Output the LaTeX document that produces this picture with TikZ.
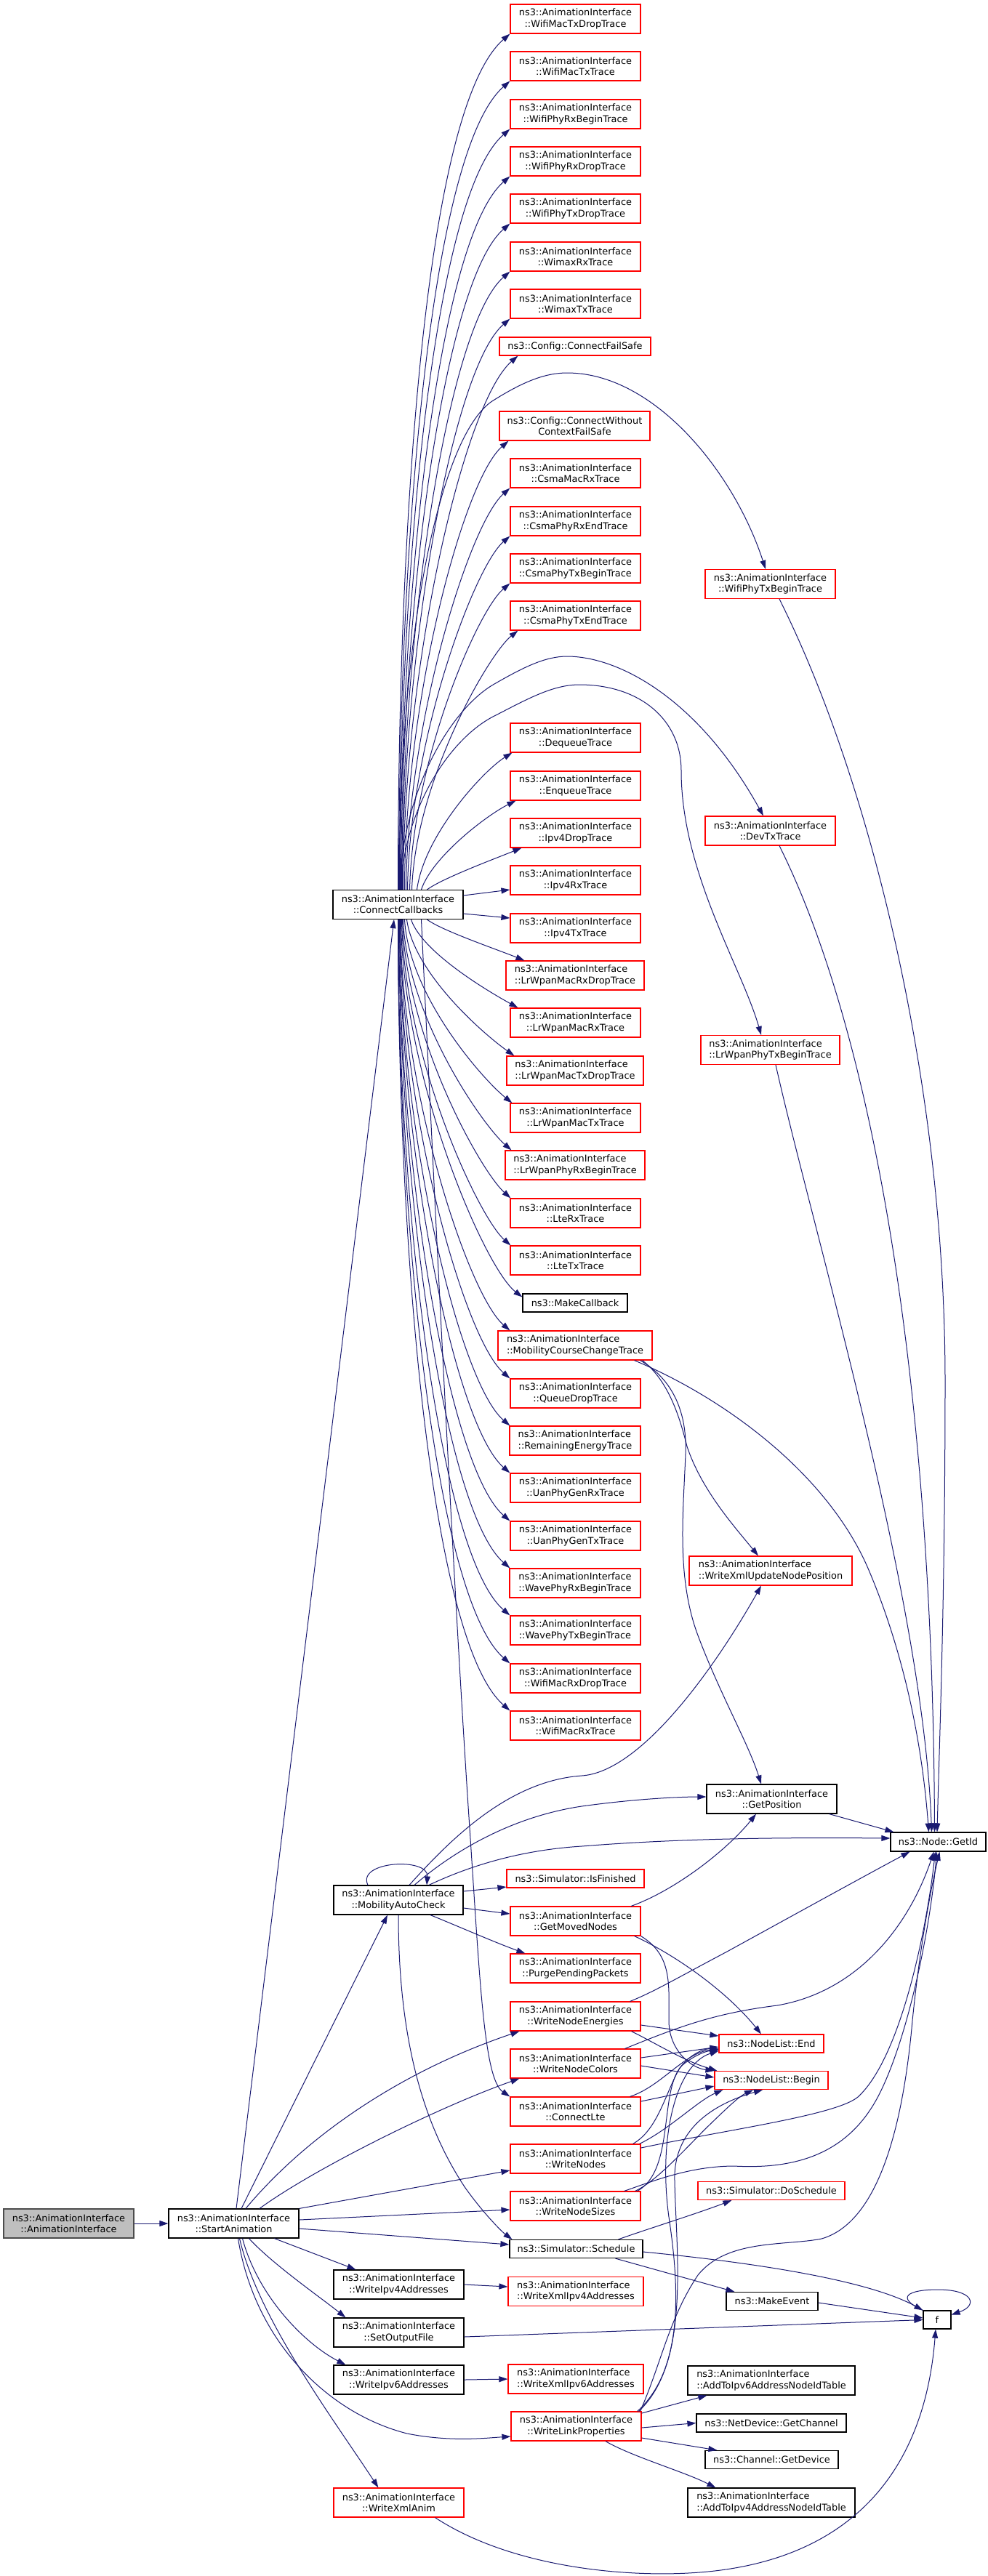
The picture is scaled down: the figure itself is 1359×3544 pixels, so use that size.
\documentclass[tikz,border=0pt]{standalone}
\usepackage{fontspec}
\setmainfont{DejaVu Sans}
\usetikzlibrary{arrows.meta}
\definecolor{edgec}{HTML}{191970}
\definecolor{rb}{HTML}{FF0000}
\definecolor{gb}{HTML}{BFBFBF}
\newcommand\dvfont{\fontsize{12.9pt}{15.3pt}\selectfont}
\begin{document}
\begin{tikzpicture}[x=1pt,y=-1pt,
  box/.style={draw=black, line width=1.2pt, inner sep=0pt, minimum height=40pt, font=\dvfont, align=center, fill=white},
  rbox/.style={box, draw=rb},
  root/.style={box, fill=gb, draw=black!70},
  lbox/.style={align=left},
  one/.style={minimum height=25pt},
  mw/.style={minimum width=#1pt},
  lnk/.style={draw=edgec, line width=1pt, -{Triangle[length=12pt,width=8pt]}}]
\useasboundingbox (0,0) rectangle (1359,3544);

% ---- left part
\node[root, mw=179] (A0) at (94.5,3059) {ns3::AnimationInterface\\::AnimationInterface};
\node[box, mw=179] (SA) at (321.5,3059) {ns3::AnimationInterface\\::StartAnimation};
\node[box, mw=179] (CC) at (547.5,1244.5) {ns3::AnimationInterface\\::ConnectCallbacks};
\node[box, mw=178] (MAC) at (548,2614) {ns3::AnimationInterface\\::MobilityAutoCheck};
\node[box, mw=179] (WI4) at (548.5,3143) {ns3::AnimationInterface\\::WriteIpv4Addresses};
\node[box, mw=179] (SOF) at (548.5,3209) {ns3::AnimationInterface\\::SetOutputFile};
\node[box, mw=179] (WI6) at (548.5,3274) {ns3::AnimationInterface\\::WriteIpv6Addresses};
\node[rbox, mw=179] (WXA) at (548.5,3443) {ns3::AnimationInterface\\::WriteXmlAnim};

% ---- column of callbacks
\node[rbox, mw=179] (n1) at (791.5,26) {ns3::AnimationInterface\\::WifiMacTxDropTrace};
\node[rbox, mw=179] (n2) at (791.5,91) {ns3::AnimationInterface\\::WifiMacTxTrace};
\node[rbox, mw=179] (n3) at (791.5,157) {ns3::AnimationInterface\\::WifiPhyRxBeginTrace};
\node[rbox, mw=179] (n4) at (791.5,222) {ns3::AnimationInterface\\::WifiPhyRxDropTrace};
\node[rbox, mw=179] (n5) at (791.5,287) {ns3::AnimationInterface\\::WifiPhyTxDropTrace};
\node[rbox, mw=179] (n6) at (791.5,353) {ns3::AnimationInterface\\::WimaxRxTrace};
\node[rbox, mw=179] (n7) at (791.5,418) {ns3::AnimationInterface\\::WimaxTxTrace};
\node[rbox, one, mw=208] (n8) at (791,476.5) {ns3::Config::ConnectFailSafe};
\node[rbox, mw=207] (n9) at (790.5,586) {ns3::Config::ConnectWithout\\ContextFailSafe};
\node[rbox, mw=179] (n10) at (791.5,651) {ns3::AnimationInterface\\::CsmaMacRxTrace};
\node[rbox, mw=179] (n11) at (791.5,717) {ns3::AnimationInterface\\::CsmaPhyRxEndTrace};
\node[rbox, lbox, mw=179] (n12) at (791.5,782) {ns3::AnimationInterface\\::CsmaPhyTxBeginTrace};
\node[rbox, mw=179] (n13) at (791.5,847) {ns3::AnimationInterface\\::CsmaPhyTxEndTrace};
\node[rbox, mw=179] (n14) at (791.5,1015) {ns3::AnimationInterface\\::DequeueTrace};
\node[rbox, mw=179] (n15) at (791.5,1081) {ns3::AnimationInterface\\::EnqueueTrace};
\node[rbox, mw=179] (n16) at (791.5,1146) {ns3::AnimationInterface\\::Ipv4DropTrace};
\node[rbox, mw=179] (n17) at (791.5,1211) {ns3::AnimationInterface\\::Ipv4RxTrace};
\node[rbox, mw=179] (n18) at (791.5,1277) {ns3::AnimationInterface\\::Ipv4TxTrace};
\node[rbox, lbox, mw=190] (n19) at (791,1342) {ns3::AnimationInterface\\::LrWpanMacRxDropTrace};
\node[rbox, mw=179] (n20) at (791.5,1407) {ns3::AnimationInterface\\::LrWpanMacRxTrace};
\node[rbox, lbox, mw=188] (n21) at (791,1473) {ns3::AnimationInterface\\::LrWpanMacTxDropTrace};
\node[rbox, mw=179] (n22) at (791.5,1538) {ns3::AnimationInterface\\::LrWpanMacTxTrace};
\node[rbox, lbox, mw=192] (n23) at (791,1603) {ns3::AnimationInterface\\::LrWpanPhyRxBeginTrace};
\node[rbox, mw=179] (n24) at (791.5,1669) {ns3::AnimationInterface\\::LteRxTrace};
\node[rbox, mw=179] (n25) at (791.5,1734) {ns3::AnimationInterface\\::LteTxTrace};
\node[box, one, mw=144] (n26) at (791,1792.5) {ns3::MakeCallback};
\node[rbox, lbox, mw=212] (n27) at (791,1851) {ns3::AnimationInterface\\::MobilityCourseChangeTrace};
\node[rbox, mw=179] (n28) at (791.5,1917) {ns3::AnimationInterface\\::QueueDropTrace};
\node[rbox, lbox, mw=180] (n29) at (791,1982) {ns3::AnimationInterface\\::RemainingEnergyTrace};
\node[rbox, mw=179] (n30) at (791.5,2047) {ns3::AnimationInterface\\::UanPhyGenRxTrace};
\node[rbox, mw=179] (n31) at (791.5,2113) {ns3::AnimationInterface\\::UanPhyGenTxTrace};
\node[rbox, lbox, mw=180] (n32) at (791,2178) {ns3::AnimationInterface\\::WavePhyRxBeginTrace};
\node[rbox, lbox, mw=179] (n33) at (791.5,2243) {ns3::AnimationInterface\\::WavePhyTxBeginTrace};
\node[rbox, mw=179] (n34) at (791.5,2309) {ns3::AnimationInterface\\::WifiMacRxDropTrace};
\node[rbox, mw=179] (n35) at (791.5,2374) {ns3::AnimationInterface\\::WifiMacRxTrace};

% ---- lower column
\node[rbox, one, mw=189] (m1) at (791.5,2584.5) {ns3::Simulator::IsFinished};
\node[rbox, mw=179] (m2) at (791.5,2643) {ns3::AnimationInterface\\::GetMovedNodes};
\node[rbox, mw=179] (m3) at (791.5,2708) {ns3::AnimationInterface\\::PurgePendingPackets};
\node[rbox, mw=179] (m4) at (791.5,2774) {ns3::AnimationInterface\\::WriteNodeEnergies};
\node[rbox, mw=179] (m5) at (791.5,2839) {ns3::AnimationInterface\\::WriteNodeColors};
\node[rbox, mw=179] (m6) at (791.5,2905) {ns3::AnimationInterface\\::ConnectLte};
\node[rbox, mw=179] (m7) at (791.5,2970) {ns3::AnimationInterface\\::WriteNodes};
\node[rbox, mw=179] (m8) at (791.5,3035) {ns3::AnimationInterface\\::WriteNodeSizes};
\node[box, one, mw=183] (m9) at (792.5,3094) {ns3::Simulator::Schedule};
\node[rbox, lbox, mw=186] (WX4) at (792,3152.5) {ns3::AnimationInterface\\::WriteXmlIpv4Addresses};
\node[rbox, lbox, mw=186] (WX6) at (792,3273) {ns3::AnimationInterface\\::WriteXmlIpv6Addresses};
\node[rbox, mw=179] (m12) at (792.5,3338) {ns3::AnimationInterface\\::WriteLinkProperties};

% ---- right columns
\node[rbox, mw=179] (WPTB) at (1059.5,803.5) {ns3::AnimationInterface\\::WifiPhyTxBeginTrace};
\node[rbox, mw=179] (DTX) at (1059.5,1143) {ns3::AnimationInterface\\::DevTxTrace};
\node[rbox, lbox, mw=191] (LPTB) at (1059.5,1444.5) {ns3::AnimationInterface\\::LrWpanPhyTxBeginTrace};
\node[rbox, lbox, mw=224] (WXU) at (1060,2161) {ns3::AnimationInterface\\::WriteXmlUpdateNodePosition};
\node[box, mw=179] (GP) at (1061.5,2475) {ns3::AnimationInterface\\::GetPosition};
\node[rbox, one, mw=144] (NLE) at (1061,2811.5) {ns3::NodeList::End};
\node[rbox, one, mw=156] (NLB) at (1061,2862) {ns3::NodeList::Begin};
\node[rbox, one, mw=202] (DS) at (1061,3014) {ns3::Simulator::DoSchedule};
\node[box, one, mw=126] (ME) at (1062,3166) {ns3::MakeEvent};
\node[box, lbox, mw=230] (A6) at (1061,3275) {ns3::AnimationInterface\\::AddToIpv6AddressNodeIdTable};
\node[box, one, mw=206] (GC) at (1061,3333.5) {ns3::NetDevice::GetChannel};
\node[box, one, mw=183] (GD) at (1061.5,3384) {ns3::Channel::GetDevice};
\node[box, lbox, mw=230] (A4) at (1061,3443) {ns3::AnimationInterface\\::AddToIpv4AddressNodeIdTable};
\node[box, one, mw=131, minimum height=26pt] (GID) at (1290.5,2534) {ns3::Node::GetId};
\node[box, one, mw=38] (F) at (1289,3191.5) {f};

% ---- ConnectCallbacks, upper fan
\draw[lnk] ([xshift=0pt]CC.north) .. controls +(0,-495) and +(-118,102) .. (n1.south west);
\draw[lnk] ([xshift=1pt]CC.north) .. controls +(0,-467) and +(-111,97) .. (n2.south west);
\draw[lnk] ([xshift=2pt]CC.north) .. controls +(0,-440) and +(-105,91) .. (n3.south west);
\draw[lnk] ([xshift=3pt]CC.north) .. controls +(0,-412) and +(-98,85) .. (n4.south west);
\draw[lnk] ([xshift=4pt]CC.north) .. controls +(0,-385) and +(-92,80) .. (n5.south west);
\draw[lnk] ([xshift=5pt]CC.north) .. controls +(0,-357) and +(-85,74) .. (n6.south west);
\draw[lnk] ([xshift=6pt]CC.north) .. controls +(0,-330) and +(-79,68) .. (n7.south west);
\draw[lnk] ([xshift=7pt]CC.north) .. controls +(0,-309) and +(-74,64) .. ([xshift=26pt]n8.south west);
\draw[lnk] ([xshift=9pt]CC.north) .. controls +(0,-260) and +(-62,54) .. ([xshift=13pt]n9.south west);
\draw[lnk] ([xshift=11pt]CC.north) .. controls +(2,-232) and +(-55,48) .. (n10.south west);
\draw[lnk] ([xshift=13pt]CC.north) .. controls +(3,-205) and +(-49,42) .. (n11.south west);
\draw[lnk] ([xshift=16pt]CC.north) .. controls +(4,-177) and +(-45,38) .. (n12.south west);
\draw[lnk] ([xshift=19pt]CC.north) .. controls +(5,-150) and +(-40,32) .. ([xshift=11pt]n13.south west);
\draw[lnk] ([xshift=26pt]CC.north) .. controls +(10,-75) and +(-40,25) .. ([xshift=3pt]n14.south west);
\draw[lnk] ([xshift=32pt]CC.north) .. controls +(15,-45) and +(-40,20) .. ([xshift=8pt]n15.south west);
\draw[lnk] ([xshift=40pt]CC.north) .. controls +(20,-15) and +(-40,16) .. ([xshift=16pt]n16.south west);
\draw[lnk] ([yshift=12.5pt]CC.east) -- ([yshift=-13pt]n17.west);
\draw[lnk] ([yshift=-12.5pt]CC.east) -- ([yshift=14pt]n18.west);

% ---- ConnectCallbacks, lower fan
\draw[lnk] ([xshift=40pt]CC.south) .. controls +(20,15) and +(-40,-16) .. ([xshift=26pt]n19.north west);
\draw[lnk] ([xshift=18pt]CC.south) .. controls +(15,45) and +(-40,-22) .. ([xshift=11pt]n20.north west);
\draw[lnk] ([xshift=12pt]CC.south) .. controls +(10,75) and +(-40,-28) .. ([xshift=11pt]n21.north west);
\draw[lnk] ([xshift=9pt]CC.south) .. controls +(6,105) and +(-40,-32) .. ([xshift=3pt]n22.north west);
\draw[lnk] ([xshift=7pt]CC.south) .. controls +(5,133) and +(-40,-35) .. ([xshift=9pt]n23.north west);
\draw[lnk] ([xshift=6pt]CC.south) .. controls +(4,160) and +(-42,-38) .. ([xshift=1pt]n24.north west);
\draw[lnk] ([xshift=5pt]CC.south) .. controls +(3,188) and +(-45,-40) .. ([xshift=1pt]n25.north west);
\draw[lnk] ([xshift=4pt]CC.south) .. controls +(2,218) and +(-52,-40) .. ([yshift=-5pt]n26.north west);
\draw[lnk] ([xshift=3pt]CC.south) .. controls +(1,237) and +(-57,-49) .. ([xshift=17pt]n27.north west);
\draw[lnk] ([xshift=3pt]CC.south) .. controls +(0,265) and +(-63,-55) .. (n28.north west);
\draw[lnk] ([xshift=2pt]CC.south) .. controls +(0,292) and +(-70,-60) .. ([xshift=1pt]n29.north west);
\draw[lnk] ([xshift=2pt]CC.south) .. controls +(0,320) and +(-76,-66) .. (n30.north west);
\draw[lnk] ([xshift=1pt]CC.south) .. controls +(0,347) and +(-83,-72) .. (n31.north west);
\draw[lnk] ([xshift=1pt]CC.south) .. controls +(0,375) and +(-89,-78) .. ([xshift=1pt]n32.north west);
\draw[lnk] ([xshift=0pt]CC.south) .. controls +(0,402) and +(-96,-83) .. (n33.north west);
\draw[lnk] ([xshift=0pt]CC.south) .. controls +(0,430) and +(-102,-89) .. (n34.north west);
\draw[lnk] ([xshift=0pt]CC.south) .. controls +(0,457) and +(-109,-95) .. (n35.north west);

% ---- ConnectCallbacks, long curves
\draw[lnk] ([xshift=1.5pt]CC.north) .. controls (549,850) and (610,590) .. (680,550) .. controls (720,525) and (750,513) .. (780,513) .. controls (900,513) and (1010,650) .. ([xshift=-6.5pt]WPTB.north);
\draw[lnk] ([xshift=2.5pt]CC.north) .. controls (552,1090) and (620,975) .. (680,941) .. controls (720,918) and (750,903) .. (780,903) .. controls (850,903) and (960,960) .. ([xshift=-9.5pt]DTX.north);
\draw[lnk] ([xshift=3.5pt]CC.north) .. controls (556,1110) and (620,1015) .. (680,985) .. controls (725,962) and (760,942) .. (797,942) .. controls (880,942) and (937,990) .. (937,1060) .. controls (937,1200) and (1020,1330) .. ([xshift=-12.5pt]LPTB.north);
\draw[lnk] ([xshift=32pt]CC.south) .. controls (600,1700) and (625,2200) .. (645,2500) .. controls (660,2720) and (665,2860) .. (m6.north west);

% ---- into GetId from above
\draw[lnk] ([xshift=12.5pt]WPTB.south) .. controls (1200,1080) and (1300,1500) .. (1300,1900) .. controls (1300,2200) and (1292,2400) .. ([xshift=-1.5pt]GID.north);
\draw[lnk] ([xshift=12.5pt]DTX.south) .. controls (1200,1420) and (1283,1900) .. ([xshift=-5pt]GID.north);
\draw[lnk] ([xshift=7.5pt]LPTB.south) .. controls (1120,1700) and (1270,2200) .. ([xshift=-9pt]GID.north);
\draw[lnk] ([xshift=-25pt]n27.south east) .. controls (1000,1925) and (1140,2030) .. (1195,2160) .. controls (1250,2290) and (1270,2420) .. ([xshift=-13pt]GID.north);
\draw[lnk] ([xshift=-14pt]n27.south east) .. controls (920,1900) and (935,1950) .. (945,1990) .. controls (965,2050) and (1010,2100) .. ([xshift=-17pt]WXU.north);
\draw[lnk] ([xshift=-17pt]n27.south east) .. controls (930,1900) and (945,1950) .. (943,2000) .. controls (940,2080) and (930,2170) .. (960,2250) .. controls (990,2330) and (1030,2400) .. ([xshift=-14.5pt]GP.north);

% ---- MobilityAutoCheck
\draw[lnk] ([xshift=-42pt]MAC.north) .. controls (490,2560) and (590,2555) .. ([xshift=39pt]MAC.north);
\draw[lnk] ([xshift=15pt]MAC.north) .. controls (620,2530) and (700,2450) .. (800,2443) .. controls (880,2438) and (980,2300) .. ([xshift=-13pt]WXU.south);
\draw[lnk] ([xshift=22pt]MAC.north) .. controls (620,2550) and (700,2500) .. (800,2485) .. controls (880,2474) and (940,2472) .. ([yshift=3pt]GP.west);
\draw[lnk] ([xshift=42pt]MAC.north) .. controls (650,2565) and (720,2545) .. (800,2540) .. controls (950,2528) and (1100,2528) .. ([yshift=5pt]GID.west);
\draw[lnk] ([yshift=12pt]MAC.east) -- ([yshift=-11.5pt]m1.west);
\draw[lnk] ([yshift=-11pt]MAC.east) -- ([yshift=10pt]m2.west);
\draw[lnk] ([xshift=44pt]MAC.south) .. controls (630,2650) and (680,2672) .. ([xshift=21pt]m3.north west);
\draw[lnk] (MAC.south) .. controls (548,2800) and (580,2920) .. (640,3010) .. controls (665,3045) and (690,3070) .. ([xshift=4pt]m9.north west);
\draw[lnk] ([xshift=-11pt]GP.south east) -- ([xshift=5pt]GID.north west);

% ---- GetMovedNodes
\draw[lnk] ([xshift=-13.5pt]m2.north east) .. controls (930,2600) and (1000,2545) .. ([xshift=-21.5pt]GP.south);
\draw[lnk] ([xshift=-9pt]m2.south east) .. controls (930,2690) and (1000,2740) .. ([xshift=-14pt]NLE.north);
\draw[lnk] (m2.south east) .. controls (925,2690) and (920,2730) .. (920,2780) .. controls (920,2820) and (950,2845) .. (NLB.north west);

% ---- WriteNodeEnergies
\draw[lnk] ([xshift=-15pt]m4.north east) .. controls (900,2740) and (930,2722) .. (1000,2685) .. controls (1100,2630) and (1200,2575) .. ([xshift=27pt]GID.south west);
\draw[lnk] ([yshift=-12pt]m4.east) -- ([yshift=10.5pt]NLE.west);
\draw[lnk] ([xshift=-13pt]m4.south east) .. controls (900,2810) and (940,2835) .. ([xshift=4pt]NLB.north west);

% ---- WriteNodeColors
\draw[lnk] ([xshift=-22pt]m5.north east) .. controls (930,2790) and (980,2770) .. (1069,2759) .. controls (1180,2740) and (1250,2650) .. ([xshift=-6pt]GID.south);
\draw[lnk] ([yshift=8pt]m5.east) -- ([yshift=-4.5pt]NLE.west);
\draw[lnk] ([yshift=-3pt]m5.east) -- ([yshift=4pt]NLB.west);

% ---- ConnectLte
\draw[lnk] ([xshift=-15pt]m6.north east) .. controls (910,2870) and (940,2825) .. ([yshift=-7pt]NLE.west);
\draw[lnk] ([yshift=14pt]m6.east) -- ([yshift=-8pt]NLB.west);

% ---- WriteNodes
\draw[lnk] ([xshift=-11pt]m7.north east) .. controls (905,2930) and (915,2880) .. (935,2845) .. controls (950,2825) and (970,2818) .. ([yshift=-8pt]NLE.west);
\draw[lnk] ([xshift=-2pt]m7.north east) .. controls (920,2930) and (960,2890) .. ([xshift=12pt]NLB.south west);
\draw[lnk] ([yshift=15pt]m7.east) .. controls (1000,2930) and (1150,2910) .. (1180,2885) .. controls (1240,2830) and (1275,2650) .. ([xshift=-4pt]GID.south);

% ---- WriteNodeSizes
\draw[lnk] ([xshift=-23pt]m8.north east) .. controls (900,3000) and (950,2980) .. (1010,2980) .. controls (1100,2985) and (1170,2960) .. (1210,2880) .. controls (1250,2800) and (1280,2650) .. ([xshift=-2pt]GID.south);
\draw[lnk] ([xshift=-8pt]m8.north east) .. controls (900,3002) and (930,2970) .. (970,2929) .. controls (995,2905) and (1015,2885) .. ([xshift=-25pt]NLB.south);
\draw[lnk] ([xshift=-5pt]m8.north east) .. controls (930,2985) and (905,2870) .. (940,2840) .. controls (955,2828) and (970,2822) .. ([yshift=-9pt]NLE.west);

% ---- WriteLinkProperties
\draw[lnk] ([xshift=-6pt]m12.north east) .. controls (940,3260) and (935,3150) .. (920,3050) .. controls (905,2940) and (930,2840) .. ([yshift=-10pt]NLE.west);
\draw[lnk] ([xshift=-4pt]m12.north east) .. controls (950,3250) and (930,3100) .. (928,3000) .. controls (926,2930) and (980,2895) .. ([xshift=-12pt]NLB.south);
\draw[lnk] ([xshift=-2pt]m12.north east) .. controls (910,3250) and (920,3190) .. (960,3130) .. controls (1000,3080) and (1080,3090) .. (1130,3080) .. controls (1200,3060) and (1240,2950) .. (1255,2780) .. controls (1265,2680) and (1280,2600) .. ([xshift=2pt]GID.south);
\draw[lnk] ([yshift=18pt]m12.east) -- ([xshift=27pt]A6.south west);
\draw[lnk] ([yshift=-2pt]m12.east) -- (GC.west);
\draw[lnk] ([yshift=-16pt]m12.east) -- ([xshift=17pt]GD.north west);
\draw[lnk] ([xshift=40.5pt]m12.south) .. controls (870,3380) and (940,3400) .. ([xshift=39pt]A4.north west);

% ---- Schedule, f
\draw[lnk] ([xshift=58pt]m9.north) .. controls (880,3070) and (960,3045) .. ([xshift=47pt]DS.south west);
\draw[lnk] ([xshift=54pt]m9.south) -- ([xshift=12pt]ME.north west);
\draw[lnk] ([yshift=-4pt]m9.east) .. controls (1060,3115) and (1200,3140) .. (F.north west);
\draw[lnk] ([yshift=-2pt]ME.east) -- ([yshift=2.5pt]F.west);
\draw[lnk] ([yshift=-6pt]SOF.east) -- (F.west);
\draw[lnk] ([xshift=50pt]WXA.south) .. controls (700,3530) and (850,3545) .. (946,3540) .. controls (1150,3530) and (1270,3420) .. ([xshift=-2pt]F.south);
\draw[lnk] (F.north west) .. controls (1230,3160) and (1250,3150) .. (1290,3150) .. controls (1340,3150) and (1345,3172) .. ([yshift=7pt]F.east);
\draw[lnk] (WI4.east) -- ([yshift=6.5pt]WX4.west);
\draw[lnk] (WI6.east) -- (WX6.west);

% ---- StartAnimation
\draw[lnk] (A0.east) -- (SA.west);
\draw[lnk] ([xshift=3.5pt]SA.north) -- ([xshift=-5.5pt]CC.south);
\draw[lnk] ([xshift=10.5pt]SA.north) -- ([xshift=-15pt]MAC.south);
\draw[lnk] ([xshift=16.5pt]SA.north) .. controls (420,2940) and (550,2850) .. ([xshift=13pt]m4.south west);
\draw[lnk] ([xshift=35.5pt]SA.north) .. controls (430,2985) and (600,2900) .. ([xshift=13pt]m5.south west);
\draw[lnk] (SA.north east) -- ([yshift=-16pt]m7.west);
\draw[lnk] ([yshift=5pt]SA.east) -- ([yshift=-5pt]m8.west);
\draw[lnk] ([yshift=-7pt]SA.east) -- ([yshift=6pt]m9.west);
\draw[lnk] ([xshift=56pt]SA.south) -- ([xshift=31pt]WI4.north west);
\draw[lnk] ([xshift=21pt]SA.south) .. controls (375,3115) and (440,3160) .. ([xshift=17pt]SOF.north west);
\draw[lnk] ([xshift=12pt]SA.south) .. controls (355,3160) and (420,3225) .. ([xshift=17pt]WI6.north west);
\draw[lnk] ([xshift=6pt]SA.south) .. controls (350,3220) and (450,3320) .. (560,3348) .. controls (620,3360) and (670,3354) .. ([yshift=-14pt]m12.west);
\draw[lnk] ([xshift=8pt]SA.south) .. controls (355,3190) and (460,3330) .. ([xshift=62pt]WXA.north west);
\end{tikzpicture}
\end{document}
